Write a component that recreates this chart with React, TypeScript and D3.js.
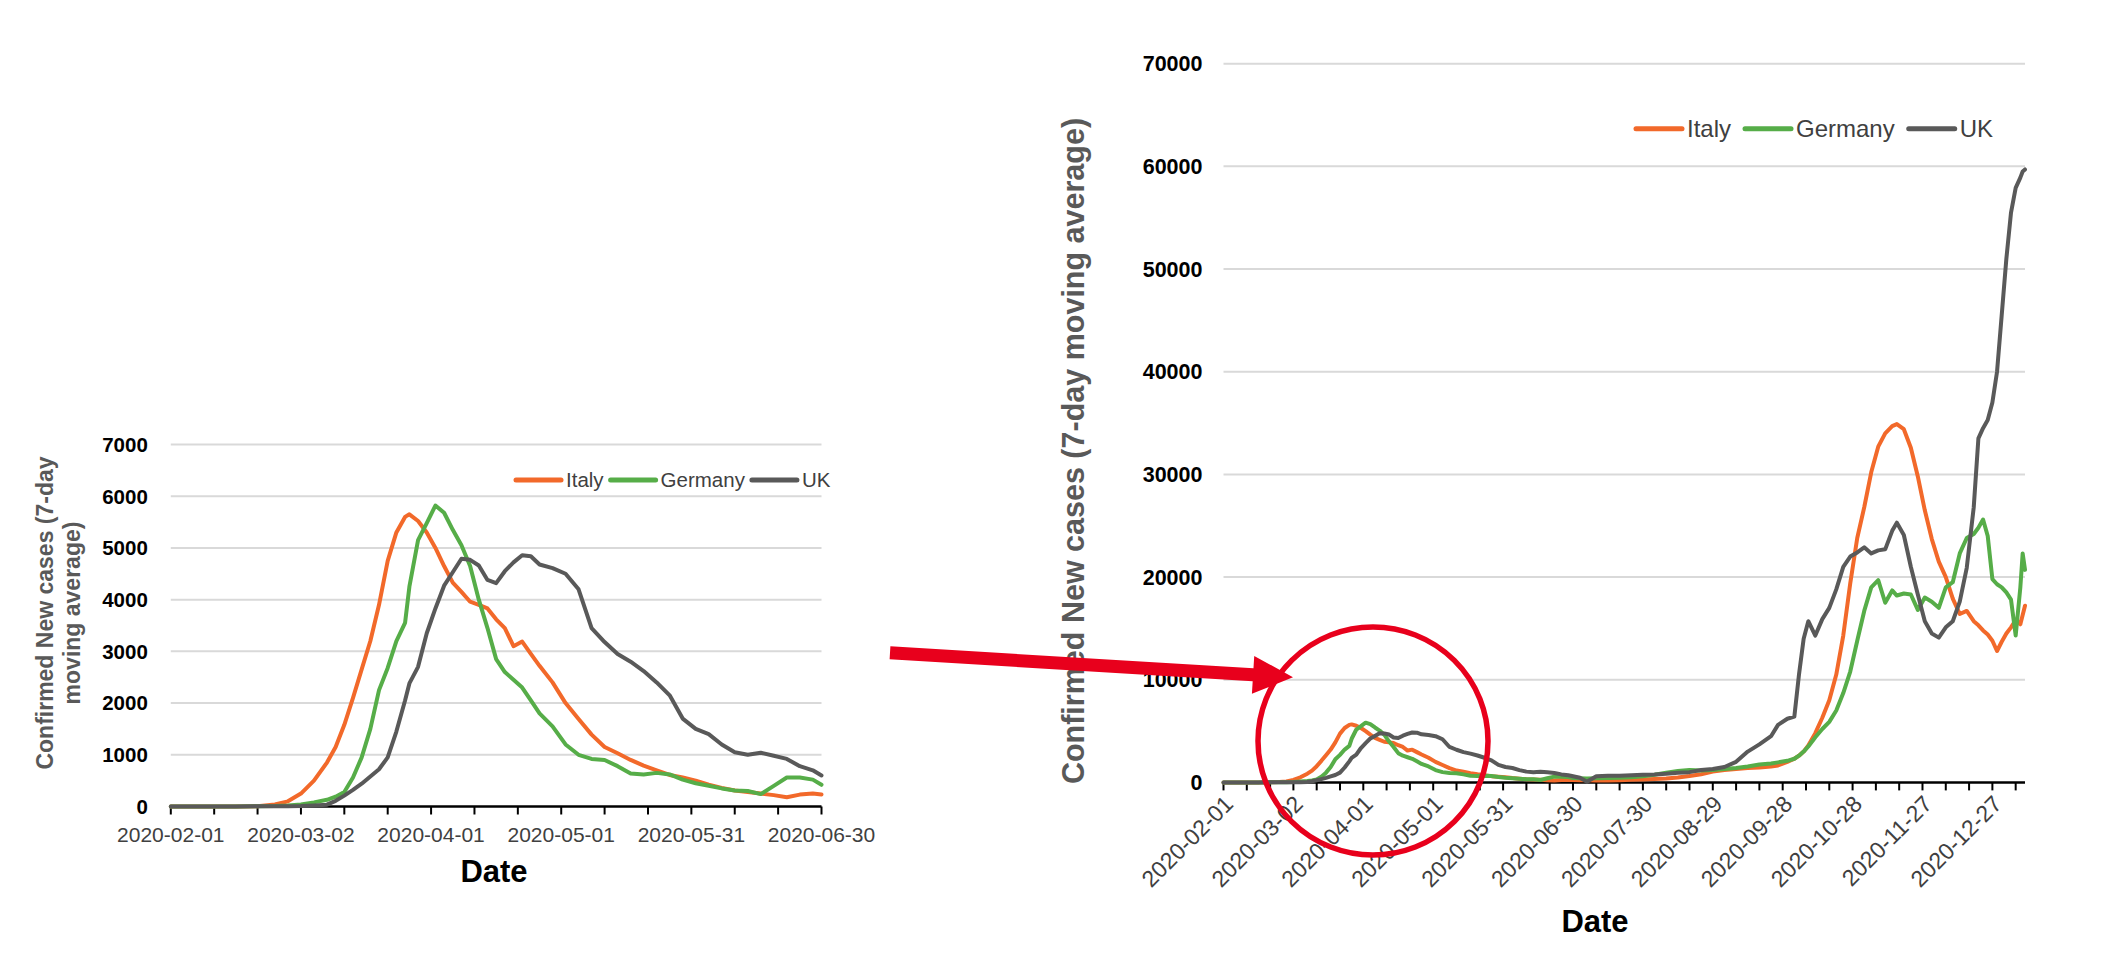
import { useRef, useEffect } from "react";
import * as d3 from "d3";

// days after 2020-02-01 at which the 7-day averages were read
const startDate = "2020-02-01";
const dayOffsets = [
  0, 5, 10, 15, 20, 24, 27, 30, 33, 36,
  38, 40, 42, 44, 46, 48, 50, 52, 54, 55,
  57, 59, 61, 63, 65, 67, 69, 71, 73, 75,
  77, 79, 81, 83, 85, 88, 91, 94, 97, 100,
  103, 106, 109, 112, 115, 118, 121, 124, 127, 130,
  133, 136, 139, 142, 145, 148, 150,
  153, 156, 160, 165, 170, 175, 180, 185, 190, 195,
  200, 205, 210, 215, 220, 225, 230, 235, 238, 242,
  245, 247, 249, 251, 254, 257, 260, 263, 266, 269,
  272, 275, 278, 281, 284, 287, 289, 292, 295, 298,
  301, 304, 307, 310, 313, 316, 319, 322, 324, 326,
  328, 330, 332, 334, 336, 338, 340, 342, 343, 344,
];

const italy = [
  0, 0, 0, 0, 5, 40, 100, 250, 500, 850,
  1150, 1580, 2100, 2650, 3200, 3900, 4750, 5300, 5600, 5650,
  5520, 5300, 5000, 4650, 4330, 4150, 3960, 3900, 3830, 3620,
  3450, 3100, 3190, 2950, 2720, 2400, 2000, 1690, 1390, 1150,
  1030, 900, 790, 700, 610, 560, 500, 420, 360, 310,
  280, 250, 220, 180, 230, 250, 230,
  210, 200, 190, 190, 210, 250, 280, 330, 390, 480,
  620, 800, 1050, 1200, 1300, 1400, 1450, 1550, 1650, 2000,
  2300, 2600, 3000, 3600, 4800, 6300, 8000, 10500, 14300, 19400,
  23800, 26800, 30200, 32700, 34000, 34700, 34900, 34400, 32600, 29800,
  26500, 23700, 21500, 20000, 17900, 16400, 16700, 15700, 15300, 14800,
  14400, 13800, 12800, 13700, 14500, 15100, 15800, 15400, 16300, 17200,
];

const germany = [
  0, 0, 0, 0, 5, 10, 20, 40, 80, 130,
  190, 280, 560, 950, 1500, 2250, 2680, 3200, 3550, 4250,
  5150, 5480, 5820, 5680, 5350, 5050, 4650, 4000, 3450, 2850,
  2600, 2450, 2300, 2050, 1800, 1550, 1200, 1000, 920, 900,
  780, 640, 620, 650, 620, 520, 450, 400, 350, 310,
  300, 240, 400, 560, 560, 520, 420,
  400, 380, 400, 420, 460, 500, 600, 750, 950, 1100,
  1200, 1150, 1200, 1300, 1400, 1550, 1750, 1850, 1950, 2100,
  2300, 2600, 3000, 3500, 4400, 5200, 5900, 7000, 8700, 10800,
  13800, 16700, 19000, 19700, 17500, 18700, 18200, 18400, 18300, 16800,
  18000, 17600, 17000, 19000, 19500, 22300, 23800, 24200, 24800, 25600,
  24000, 19800, 19300, 19000, 18500, 17800, 14300, 19000, 22300, 20700,
];

const uk = [
  0, 2, 2, 2, 3, 4, 6, 10, 20, 35,
  110, 210, 320, 440, 580, 720, 950, 1450, 2050, 2380,
  2700, 3350, 3830, 4270, 4530, 4790, 4770, 4660, 4380, 4320,
  4550, 4720, 4860, 4840, 4680, 4610, 4500, 4200, 3450, 3180,
  2950, 2800, 2620, 2400, 2150, 1700, 1500, 1400, 1200, 1050,
  1000, 1040, 980, 920, 780, 700, 600,
  450, 60, 600, 650, 650, 700, 750, 780, 850, 950,
  1000, 1200, 1300, 1500, 2000, 3000, 3700, 4500, 5600, 6200,
  6400, 10500, 14000, 15700, 14300, 15900, 17000, 18800, 21000, 22000,
  22400, 22900, 22300, 22600, 22700, 24500, 25300, 24100, 21000, 18300,
  15700, 14500, 14100, 15100, 15700, 17600, 20900, 26800, 33500, 34500,
  35300, 37000, 40000, 45500, 51000, 55500, 57900, 58900, 59500, 59700,
];

const seriesNames = ["Italy", "Germany", "UK"];
const seriesColors = ["#F2692A", "#56AD48", "#595959"];

const leftYTicks = [0, 1000, 2000, 3000, 4000, 5000, 6000, 7000];
const rightYTicks = [0, 10000, 20000, 30000, 40000, 50000, 60000, 70000];
const leftDateLabels = ["2020-02-01", "2020-03-02", "2020-04-01", "2020-05-01", "2020-05-31", "2020-06-30"];
const rightDateLabels = [
  "2020-02-01", "2020-03-02", "2020-04-01", "2020-05-01", "2020-05-31", "2020-06-30",
  "2020-07-30", "2020-08-29", "2020-09-28", "2020-10-28", "2020-11-27", "2020-12-27",
];
const leftEnd = "2020-06-30";
const rightEnd = "2021-01-10";
const yTitleLines = ["Confirmed New cases (7-day", "moving average)"];
const yTitle = "Confirmed New cases (7-day moving average)";
const xTitle = "Date";

const W = 2102,
  H = 964;
const FONT = "'Liberation Sans', Arial, sans-serif";
const RED = "#E8001C";
const parse = d3.utcParse("%Y-%m-%d");

function drawPanel(svg, c) {
  const start = parse(startDate);
  const end = parse(c.end);
  const x = d3.scaleUtc().domain([start, end]).range([c.x0, c.x1]);
  const y = d3
    .scaleLinear()
    .domain([0, d3.max(c.yTicks)])
    .range([c.yBase, c.yTop]);
  const g = svg.append("g");

  // gridlines
  g.append("g")
    .selectAll("line")
    .data(c.yTicks.slice(1))
    .join("line")
    .attr("x1", c.x0)
    .attr("x2", c.x1)
    .attr("y1", (d) => y(d))
    .attr("y2", (d) => y(d))
    .attr("stroke", "#D9D9D9")
    .attr("stroke-width", 2);

  g.append("g")
    .selectAll("text")
    .data(c.yTicks)
    .join("text")
    .attr("x", c.x0 - c.yGap)
    .attr("y", (d) => y(d))
    .attr("dy", "0.36em")
    .attr("text-anchor", "end")
    .attr("font-size", c.yFont)
    .attr("font-weight", 700)
    .attr("fill", "#000")
    .text((d) => d);

  // x axis with a tick every 10 days
  g.append("line")
    .attr("x1", c.x0)
    .attr("x2", c.x1)
    .attr("y1", c.yBase)
    .attr("y2", c.yBase)
    .attr("stroke", "#000")
    .attr("stroke-width", 2.5);
  const ticks = d3.utcDay.range(start, d3.utcDay.offset(end, 1), 10);
  g.append("g")
    .selectAll("line")
    .data(ticks)
    .join("line")
    .attr("x1", (d) => x(d))
    .attr("x2", (d) => x(d))
    .attr("y1", c.yBase)
    .attr("y2", c.yBase + 8)
    .attr("stroke", "#000")
    .attr("stroke-width", 2);

  const lab = g
    .append("g")
    .selectAll("text")
    .data(c.dateLabels)
    .join("text")
    .attr("font-size", c.xFont)
    .attr("fill", "#404040")
    .text((d) => d);
  if (c.rotate) {
    lab
      .attr("text-anchor", "end")
      .attr("transform", (d) => `translate(${x(parse(d)) + 11},${c.yBase + 23}) rotate(-45)`);
  } else {
    lab
      .attr("text-anchor", "middle")
      .attr("x", (d) => x(parse(d)))
      .attr("y", c.yBase + 35);
  }

  g.append("text")
    .attr("x", c.xTitle[0])
    .attr("y", c.xTitle[1])
    .attr("text-anchor", "middle")
    .attr("font-size", 31)
    .attr("font-weight", 700)
    .attr("fill", "#000")
    .text(xTitle);

  // series
  const dates = dayOffsets.map((d) => d3.utcDay.offset(start, d));
  const line = d3
    .line()
    .x((p) => x(p[0]))
    .y((p) => y(p[1]));
  [italy, germany, uk].forEach((vals, i) => {
    const pts = dates.map((d, j) => [d, vals[j]]).filter((p) => p[0] <= end);
    g.append("path")
      .attr("d", line(pts))
      .attr("fill", "none")
      .attr("stroke", seriesColors[i])
      .attr("stroke-width", c.lineW)
      .attr("stroke-linejoin", "round")
      .attr("stroke-linecap", "round");
  });

  // legend
  let lx = c.legend.x;
  seriesNames.forEach((name, i) => {
    g.append("line")
      .attr("x1", lx)
      .attr("x2", lx + c.legend.len)
      .attr("y1", c.legend.y)
      .attr("y2", c.legend.y)
      .attr("stroke", seriesColors[i])
      .attr("stroke-width", 5)
      .attr("stroke-linecap", "round");
    const t = g
      .append("text")
      .attr("x", lx + c.legend.len + 5)
      .attr("y", c.legend.y)
      .attr("dy", "0.35em")
      .attr("font-size", c.legend.font)
      .attr("fill", "#404040")
      .text(name);
    lx += c.legend.len + 5 + t.node().getComputedTextLength() + c.legend.gap;
  });
}

export default function App() {
  const ref = useRef(null);

  useEffect(() => {
    if (!ref.current) return;
    const svg = d3.select(ref.current);
    svg.selectAll("*").remove();
    svg.append("rect").attr("width", W).attr("height", H).attr("fill", "#fff");

    drawPanel(svg, {
      end: leftEnd,
      x0: 170.8,
      x1: 821.5,
      yBase: 806.5,
      yTop: 444.5,
      yTicks: leftYTicks,
      yGap: 23,
      yFont: 20.5,
      xFont: 21,
      dateLabels: leftDateLabels,
      rotate: false,
      xTitle: [494, 882],
      lineW: 4,
      legend: { x: 516, y: 480, len: 45, font: 20.5, gap: 7 },
    });

    drawPanel(svg, {
      end: rightEnd,
      x0: 1223.5,
      x1: 2025,
      yBase: 782.4,
      yTop: 63.7,
      yTicks: rightYTicks,
      yGap: 21,
      yFont: 21.5,
      xFont: 23,
      dateLabels: rightDateLabels,
      rotate: true,
      xTitle: [1595, 931.5],
      lineW: 4,
      legend: { x: 1636, y: 128.7, len: 46, font: 24, gap: 14 },
    });

    // axis titles
    yTitleLines.forEach((t, i) => {
      svg
        .append("text")
        .attr("transform", `translate(${53 + i * 27},613) rotate(-90)`)
        .attr("text-anchor", "middle")
        .attr("font-size", 23)
        .attr("font-weight", 700)
        .attr("fill", "#595959")
        .text(t);
    });
    svg
      .append("text")
      .attr("transform", "translate(1084,451) rotate(-90)")
      .attr("text-anchor", "middle")
      .attr("font-size", 30.5)
      .attr("font-weight", 700)
      .attr("fill", "#595959")
      .text(yTitle);

    // red annotation: circle round the first wave and an arrow pointing at it
    svg
      .append("ellipse")
      .attr("cx", 1373)
      .attr("cy", 741)
      .attr("rx", 115)
      .attr("ry", 114)
      .attr("fill", "none")
      .attr("stroke", RED)
      .attr("stroke-width", 5.5);
    const len = Math.hypot(1293 - 890, 677.3 - 652.7);
    const ang = (Math.atan2(677.3 - 652.7, 1293 - 890) * 180) / Math.PI;
    svg
      .append("path")
      .attr("transform", `translate(890,652.7) rotate(${ang})`)
      .attr(
        "d",
        `M0,-6.5 L${len - 40},-6.5 L${len - 40},-19 L${len},0 L${len - 40},19 L${len - 40},6.5 L0,6.5 Z`
      )
      .attr("fill", RED);
  }, []);

  return (
    <svg
      ref={ref}
      width={W}
      height={H}
      style={{ position: "absolute", left: 0, top: 0, fontFamily: FONT, display: "block" }}
    />
  );
}
